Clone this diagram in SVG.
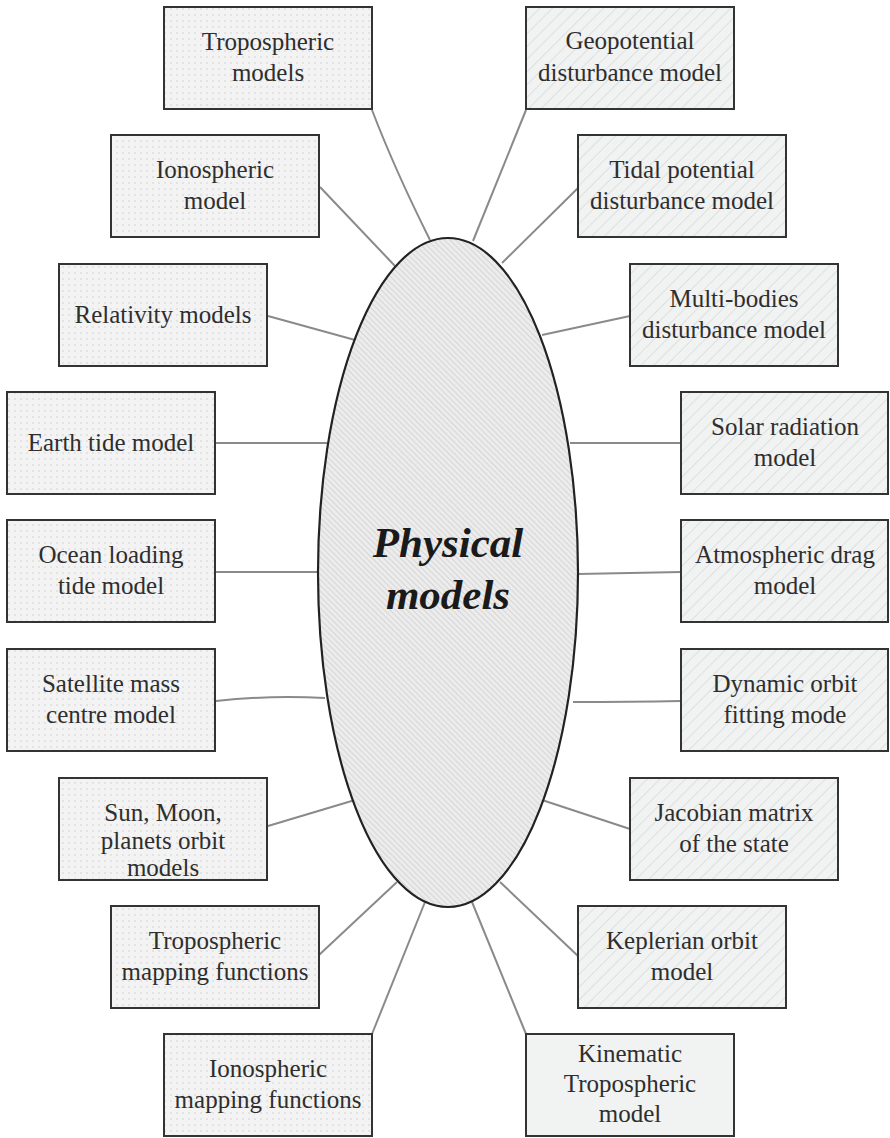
<svg xmlns="http://www.w3.org/2000/svg" width="890" height="1138" viewBox="0 0 890 1138">
<defs>
<pattern id="dots" width="6" height="6" patternUnits="userSpaceOnUse"><rect width="6" height="6" fill="#f3f3f3"/><circle cx="3" cy="3" r="0.7" fill="#c9c9c9"/></pattern>
<pattern id="hatchR" width="9" height="9" patternUnits="userSpaceOnUse" patternTransform="rotate(45)"><rect width="9" height="9" fill="#f1f2f2"/><line x1="0" y1="0" x2="0" y2="9" stroke="#dadada" stroke-width="1.6"/></pattern>
<pattern id="hatchE" width="4" height="4" patternUnits="userSpaceOnUse" patternTransform="rotate(-45)"><rect width="4" height="4" fill="#ececec"/><line x1="0" y1="0" x2="0" y2="4" stroke="#cdcdcd" stroke-width="1.4"/></pattern>
<style>
.bl{fill:url(#dots);stroke:#333;stroke-width:2}
.br{fill:url(#hatchR);stroke:#333;stroke-width:2}
.bp{fill:#f1f2f2;stroke:#333;stroke-width:2}
.t{font-family:"Liberation Serif","Times New Roman",serif;font-size:25px;fill:#2e2e2e;text-anchor:middle}
.c{fill:none;stroke:#8a8a8a;stroke-width:2}
</style>
</defs>
<rect width="890" height="1138" fill="#fff"/>
<g id="connectors">
<path class="c" d="M372,110 Q395,170 430,240"/>
<path class="c" d="M320,187 L395,266"/>
<path class="c" d="M268,316 L355,340"/>
<path class="c" d="M216,443 L327,443"/>
<path class="c" d="M216,572 L320,572"/>
<path class="c" d="M216,701 Q270,695 325,698"/>
<path class="c" d="M268,826 L355,800"/>
<path class="c" d="M319,955 L397,882"/>
<path class="c" d="M372,1034 L425,902"/>
<path class="c" d="M526,110 L473,241"/>
<path class="c" d="M578,188 L502,263"/>
<path class="c" d="M630,316 L542,335"/>
<path class="c" d="M681,443 L570,443"/>
<path class="c" d="M681,572 L578,574"/>
<path class="c" d="M681,701 Q630,702 573,702"/>
<path class="c" d="M630,829 L542,800"/>
<path class="c" d="M578,956 L500,882"/>
<path class="c" d="M526,1034 L472,902"/>
</g>
<g id="center">
<ellipse cx="448" cy="572.5" rx="130" ry="334.5" fill="url(#hatchE)" stroke="#222" stroke-width="2.2"/>
<text x="448" y="557" font-family="'Liberation Serif','Times New Roman',serif" font-size="43" font-weight="bold" font-style="italic" fill="#1a1a1a" text-anchor="middle">Physical</text>
<text x="448" y="609" font-family="'Liberation Serif','Times New Roman',serif" font-size="43" font-weight="bold" font-style="italic" fill="#1a1a1a" text-anchor="middle">models</text>
</g>
<g id="n-trop-models"><rect class="bl" x="164" y="7" width="208" height="102"/><text class="t" x="268" y="50">Tropospheric</text><text class="t" x="268" y="81">models</text></g>
<g id="n-iono-model"><rect class="bl" x="111" y="135" width="208" height="102"/><text class="t" x="215" y="178">Ionospheric</text><text class="t" x="215" y="209">model</text></g>
<g id="n-relativity"><rect class="bl" x="59" y="264" width="208" height="102"/><text class="t" x="163" y="323">Relativity models</text></g>
<g id="n-earth-tide"><rect class="bl" x="7" y="392" width="208" height="102"/><text class="t" x="111" y="451">Earth tide model</text></g>
<g id="n-ocean"><rect class="bl" x="7" y="520" width="208" height="102"/><text class="t" x="111" y="563">Ocean loading</text><text class="t" x="111" y="594">tide model</text></g>
<g id="n-sat-mass"><rect class="bl" x="7" y="649" width="208" height="102"/><text class="t" x="111" y="692">Satellite mass</text><text class="t" x="111" y="723">centre model</text></g>
<g id="n-sun-moon"><rect class="bl" x="59" y="778" width="208" height="102"/><text class="t" x="163" y="821">Sun, Moon,</text><text class="t" x="163" y="849">planets orbit</text><text class="t" x="163" y="876">models</text></g>
<g id="n-trop-map"><rect class="bl" x="111" y="906" width="208" height="102"/><text class="t" x="215" y="949">Tropospheric</text><text class="t" x="215" y="980">mapping functions</text></g>
<g id="n-iono-map"><rect class="bl" x="164" y="1034" width="208" height="102"/><text class="t" x="268" y="1077">Ionospheric</text><text class="t" x="268" y="1108">mapping functions</text></g>
<g id="n-geopotential"><rect class="br" x="526" y="7" width="208" height="102"/><text class="t" x="630" y="49">Geopotential</text><text class="t" x="630" y="81">disturbance model</text></g>
<g id="n-tidal"><rect class="br" x="578" y="135" width="208" height="102"/><text class="t" x="682" y="178">Tidal potential</text><text class="t" x="682" y="209">disturbance model</text></g>
<g id="n-multi"><rect class="br" x="630" y="264" width="208" height="102"/><text class="t" x="734" y="307">Multi-bodies</text><text class="t" x="734" y="338">disturbance model</text></g>
<g id="n-solar"><rect class="br" x="681" y="392" width="207" height="102"/><text class="t" x="785" y="435">Solar radiation</text><text class="t" x="785" y="466">model</text></g>
<g id="n-drag"><rect class="br" x="681" y="520" width="207" height="102"/><text class="t" x="785" y="563">Atmospheric drag</text><text class="t" x="785" y="594">model</text></g>
<g id="n-dynamic"><rect class="br" x="681" y="649" width="207" height="102"/><text class="t" x="785" y="692">Dynamic orbit</text><text class="t" x="785" y="723">fitting mode</text></g>
<g id="n-jacobian"><rect class="br" x="630" y="778" width="208" height="102"/><text class="t" x="734" y="821">Jacobian matrix</text><text class="t" x="734" y="852">of the state</text></g>
<g id="n-keplerian"><rect class="br" x="578" y="906" width="208" height="102"/><text class="t" x="682" y="949">Keplerian orbit</text><text class="t" x="682" y="980">model</text></g>
<g id="n-kinematic"><rect class="bp" x="526" y="1034" width="208" height="102"/><text class="t" x="630" y="1062">Kinematic</text><text class="t" x="630" y="1092">Tropospheric</text><text class="t" x="630" y="1122">model</text></g>
</svg>
